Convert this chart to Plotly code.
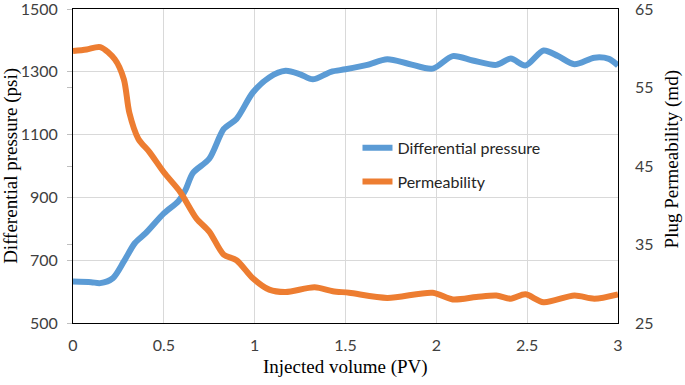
import plotly.graph_objects as go

# Injected volume (PV) samples
dp_x = [0, 0.1, 0.15, 0.22, 0.28, 0.34, 0.4, 0.5, 0.58, 0.62, 0.66, 0.75, 0.83, 0.9,
        0.99, 1.08, 1.17, 1.25, 1.32, 1.42, 1.5, 1.62, 1.73, 1.85, 1.98, 2.09, 2.2,
        2.33, 2.41, 2.49, 2.59, 2.67, 2.76, 2.87, 2.95, 3.0]
dp_y = [632, 630, 627, 643, 696, 754, 786, 849, 888, 925, 978, 1023, 1118, 1150,
        1234, 1282, 1303, 1292, 1276, 1300, 1308, 1322, 1340, 1325, 1310, 1350, 1336,
        1322, 1342, 1320, 1368, 1350, 1324, 1345, 1341, 1320]

perm_x = [0, 0.075, 0.15, 0.23, 0.28, 0.31, 0.36, 0.42, 0.5, 0.59, 0.68, 0.75, 0.83,
          0.9, 0.99, 1.08, 1.17, 1.33, 1.43, 1.52, 1.73, 1.98, 2.09, 2.22, 2.33, 2.41,
          2.49, 2.59, 2.76, 2.87, 3.0]
perm_y = [59.65, 59.85, 60.15, 58.6, 56.05, 51.8, 48.45, 46.8, 44.2, 41.7, 38.3, 36.65,
          33.7, 33.0, 30.7, 29.25, 28.95, 29.55, 29.05, 28.85, 28.2, 28.85, 28.0, 28.3,
          28.5, 28.1, 28.65, 27.65, 28.5, 28.1, 28.65]

x_ticks = [0, 0.5, 1, 1.5, 2, 2.5, 3]
x_labels = ["0", "0.5", "1", "1.5", "2", "2.5", "3"]
left_ticks = [500, 700, 900, 1100, 1300, 1500]
left_minor = [750, 1000, 1250]
right_ticks = [25, 35, 45, 55, 65]

x_title = "Injected volume (PV)"
left_title = "Differential pressure (psi)"
right_title = "Plug Permeability (md)"

tick_font = dict(family="Lato", size=16, color="#404040")
title_font = dict(family="Liberation Serif", size=19, color="#000000")

fig = go.Figure()
fig.add_trace(go.Scatter(
    x=dp_x, y=dp_y, name="Differential pressure", mode="lines",
    line=dict(color="#5B9BD5", width=6, shape="spline", smoothing=0.8),
    legendgroup="a", yaxis="y"))
fig.add_trace(go.Scatter(
    x=perm_x, y=perm_y, name="Permeability", mode="lines",
    line=dict(color="#ED7D31", width=6, shape="spline", smoothing=0.8),
    legendgroup="b", yaxis="y2"))

fig.update_layout(
    width=685, height=385,
    margin=dict(l=73, r=67, t=9, b=62, autoexpand=False),
    paper_bgcolor="white", plot_bgcolor="white",
    showlegend=True,
    legend=dict(x=0.522, y=0.612, xanchor="left", yanchor="top",
                bgcolor="rgba(0,0,0,0)", font=dict(family="Lato", size=16, color="#262626"),
                tracegroupgap=10, traceorder="grouped"),
    xaxis=dict(range=[0, 3], tickvals=x_ticks, ticktext=x_labels, automargin=False,
               showgrid=True, gridcolor="#d9d9d9", gridwidth=1,
               showline=True, linecolor="black", linewidth=1, mirror=True,
               ticks="", tickfont=tick_font, ticklabelstandoff=8,
               ticklabeloverflow="allow", zeroline=False),
    yaxis=dict(range=[500, 1500], tickvals=left_ticks, automargin=False,
               showgrid=True, gridcolor="#d9d9d9", gridwidth=1,
               showline=True, linecolor="black", linewidth=1, mirror=True,
               ticks="outside", ticklen=5, tickcolor="#bfbfbf",
               minor=dict(tickvals=left_minor, ticks="outside", ticklen=5,
                          tickcolor="#bfbfbf", showgrid=False),
               tickfont=tick_font, ticklabelstandoff=6, ticklabeloverflow="allow",
               zeroline=False),
    yaxis2=dict(range=[25, 65], tickvals=right_ticks, overlaying="y", side="right",
                automargin=False, showgrid=False, showline=False, ticks="", zeroline=False,
                tickfont=tick_font, ticklabelstandoff=16, ticklabeloverflow="allow"),
    annotations=[
        dict(text=x_title, xref="paper", yref="paper", x=0.5, y=-0.14,
             xanchor="center", yanchor="middle", showarrow=False, font=title_font),
        dict(text=left_title, xref="paper", yref="paper", x=-0.114, y=0.5,
             xanchor="center", yanchor="middle", textangle=-90, showarrow=False,
             font=title_font),
        dict(text=right_title, xref="paper", yref="paper", x=1.0985, y=0.52,
             xanchor="center", yanchor="middle", textangle=-90, showarrow=False,
             font=title_font),
    ],
)

fig.write_html("out.html", config={"displayModeBar": False},
               post_script="document.body.style.margin='0';document.body.style.padding='0';")
